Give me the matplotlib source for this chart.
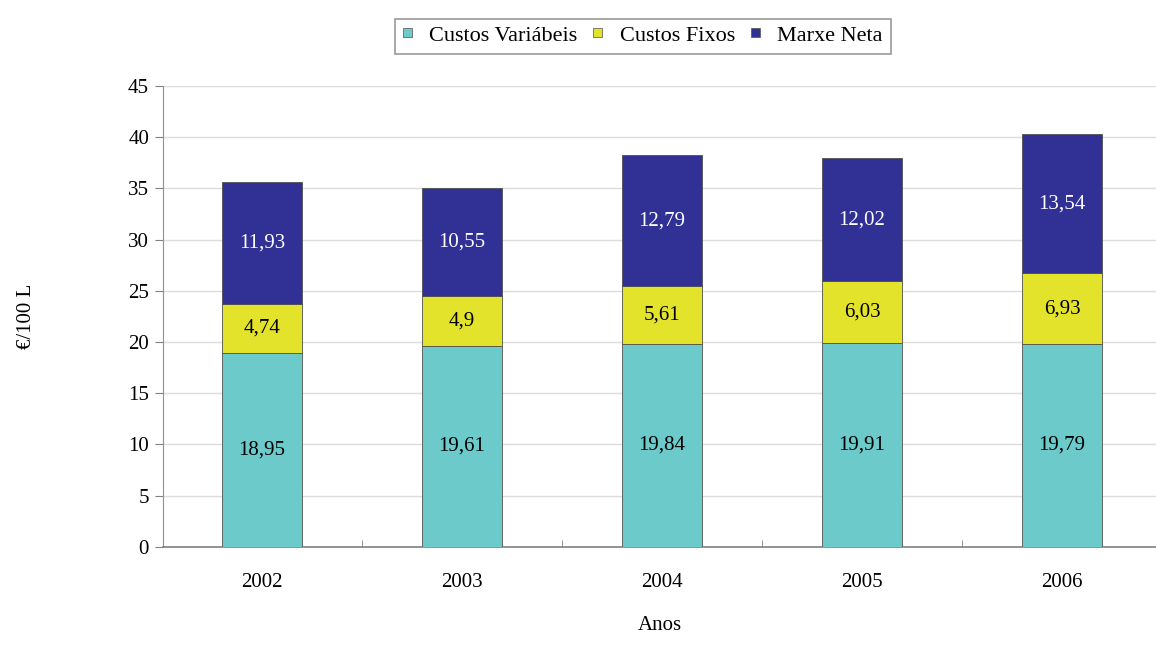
import matplotlib
matplotlib.use("Agg")
import matplotlib.pyplot as plt
import numpy as np

# Data
anos = ["2002", "2003", "2004", "2005", "2006"]
custos_variabeis = [18.95, 19.61, 19.84, 19.91, 19.79]
custos_fixos = [4.74, 4.9, 5.61, 6.03, 6.93]
marxe_neta = [11.93, 10.55, 12.79, 12.02, 13.54]

series = [
    ("Custos Variábeis", custos_variabeis, "#6ccaca", "black"),
    ("Custos Fixos", custos_fixos, "#e3e32c", "black"),
    ("Marxe Neta", marxe_neta, "#303095", "white"),
]

plt.rcParams['font.family'] = ['Liberation Serif', 'DejaVu Serif']

fig = plt.figure(figsize=(11.56, 6.51), dpi=100)
ax = fig.add_axes([0.141, 0.16, 0.859, 0.708])

x = np.arange(len(anos))
bottom = np.zeros(len(anos))
handles = []
for name, vals, color, txtcol in series:
    vals = np.array(vals)
    bars = ax.bar(x, vals, width=0.4, bottom=bottom, color=color,
                  edgecolor="#505050", linewidth=0.6, label=name, zorder=3)
    handles.append(bars)
    for xi, b, v in zip(x, bottom, vals):
        ax.text(xi, b + v / 2, ("%g" % v).replace(".", ","), ha="center", va="center",
                fontsize=15, color=txtcol, zorder=4)
    bottom += vals

ax.set_ylim(0, 45)
ax.set_yticks(range(0, 46, 5))
ax.set_xlim(-0.495, 4.47)
ax.set_xticks(x)
ax.set_xticklabels(anos)
ax.set_xticks(np.arange(0.5, 4.5, 1), minor=True)
ax.tick_params(axis="x", which="major", length=0, pad=19, labelsize=15)
ax.tick_params(axis="x", which="minor", length=5, direction="in", color="#808080")
ax.tick_params(axis="y", length=6, direction="out", color="#808080", labelsize=15, pad=4)
ax.grid(axis="y", color="#dcdcdc", linewidth=1, zorder=0)

for side in ["top", "right"]:
    ax.spines[side].set_visible(False)
ax.spines["left"].set_color("#909090")
ax.spines["bottom"].set_color("#808080")
ax.spines["bottom"].set_linewidth(1.2)

ax.set_ylabel("€/100 L", fontsize=15, labelpad=66)
ax.set_xlabel("Anos", fontsize=15, labelpad=17)

leg = fig.legend(handles=handles, loc="center", bbox_to_anchor=(0.556, 0.944), ncol=3,
                 fontsize=16, frameon=True, fancybox=False, edgecolor="#808080",
                 handlelength=0.4, handleheight=0.25, handletextpad=0.8, columnspacing=0.7,
                 borderpad=0.35)
leg.get_frame().set_linewidth(1.2)
for h in leg.legend_handles:
    h.set_linewidth(0.5)

fig.savefig("out.png", dpi=100)
